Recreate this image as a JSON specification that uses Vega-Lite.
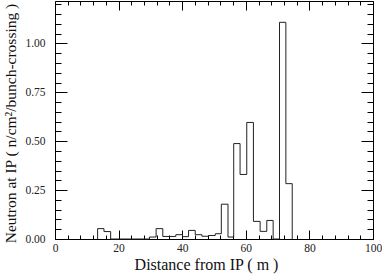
{
  "$schema": "https://vega.github.io/schema/vega-lite/v6.json",
  "width": 318,
  "height": 238,
  "autosize": {"type": "none"},
  "padding": {"left": 55, "top": 1, "right": 9, "bottom": 35},
  "background": "white",
  "config": {
    "view": {"stroke": "black", "strokeWidth": 1},
    "font": "Liberation Serif",
    "axis": {
      "grid": false,
      "domain": false,
      "tickColor": "black",
      "labelColor": "#222",
      "labelFont": "Liberation Serif",
      "labelFontSize": 11.5,
      "titleFont": "Liberation Serif",
      "titleFontWeight": "normal",
      "titleColor": "#111",
      "labelOverlap": false,
      "labelFlush": false
    }
  },
  "data": {
    "values": [
      {"i": 0, "x": 13.4, "y": 0},
      {"i": 1, "x": 13.4, "y": 0.053},
      {"i": 2, "x": 15.4, "y": 0.038},
      {"i": 3, "x": 17.5, "y": 0},
      {"i": 4, "x": 29.7, "y": 0.01},
      {"i": 5, "x": 31.8, "y": 0.053},
      {"i": 6, "x": 33.9, "y": 0.013},
      {"i": 7, "x": 36.0, "y": 0.013},
      {"i": 8, "x": 38.0, "y": 0.022},
      {"i": 9, "x": 40.1, "y": 0.012},
      {"i": 10, "x": 42.0, "y": 0.044},
      {"i": 11, "x": 44.1, "y": 0.022},
      {"i": 12, "x": 46.2, "y": 0.014},
      {"i": 13, "x": 48.3, "y": 0.018},
      {"i": 14, "x": 50.4, "y": 0.027},
      {"i": 15, "x": 52.3, "y": 0.178},
      {"i": 16, "x": 54.4, "y": 0.01},
      {"i": 17, "x": 56.2, "y": 0.488},
      {"i": 18, "x": 58.2, "y": 0.33},
      {"i": 19, "x": 60.3, "y": 0.596},
      {"i": 20, "x": 62.4, "y": 0.09},
      {"i": 21, "x": 64.5, "y": 0.039},
      {"i": 22, "x": 66.6, "y": 0.095},
      {"i": 23, "x": 68.6, "y": 0},
      {"i": 24, "x": 70.6, "y": 1.108},
      {"i": 25, "x": 72.6, "y": 0.283},
      {"i": 26, "x": 74.6, "y": 0}
    ]
  },
  "layer": [
    {
      "mark": {"type": "line", "interpolate": "step-after", "color": "#222", "strokeWidth": 1},
      "encoding": {
        "x": {
          "field": "x", "type": "quantitative",
          "scale": {"domain": [0, 100], "nice": false, "zero": false},
          "axis": {
            "orient": "bottom",
            "values": [0,4,8,12,16,20,24,28,32,36,40,44,48,52,56,60,64,68,72,76,80,84,88,92,96,100],
            "tickSize": {"condition": {"test": "datum.value % 20 === 0", "value": -9}, "value": -4},
            "labelExpr": "datum.value % 20 === 0 ? datum.label : ''",
            "labelPadding": 12,
            "title": "Distance from IP  ( m )",
            "titleFontSize": 16,
            "titlePadding": -2,
            "titleX": 151
          }
        },
        "y": {
          "field": "y", "type": "quantitative",
          "scale": {"domain": [0, 1.217], "nice": false, "zero": false},
          "axis": {
            "orient": "left",
            "values": [0,0.05,0.1,0.15,0.2,0.25,0.3,0.35,0.4,0.45,0.5,0.55,0.6,0.65,0.7,0.75,0.8,0.85,0.9,0.95,1.0,1.05,1.1,1.15,1.2],
            "format": ".2f",
            "tickSize": {"condition": {"test": "abs(datum.value*4 - round(datum.value*4)) < 0.001", "value": -12}, "value": -6},
            "labelExpr": "abs(datum.value*4 - round(datum.value*4)) < 0.001 && datum.value < 1.1 ? datum.label : ''",
            "labelPadding": 22,
            "title": "Neutron at IP  ( n/cm²/bunch-crossing )",
            "titleFontSize": 15.5,
            "titlePadding": 6,
            "titleY": 122
          }
        },
        "order": {"field": "i", "type": "quantitative"}
      }
    },
    {
      "mark": {"type": "line", "opacity": 0},
      "encoding": {
        "x": {
          "field": "x", "type": "quantitative",
          "axis": {
            "orient": "top",
            "values": [0,4,8,12,16,20,24,28,32,36,40,44,48,52,56,60,64,68,72,76,80,84,88,92,96,100],
            "tickSize": {"condition": {"test": "datum.value % 20 === 0", "value": -9}, "value": -4},
            "labels": false,
            "title": null
          }
        },
        "y": {
          "field": "y", "type": "quantitative",
          "axis": {
            "orient": "right",
            "values": [0,0.05,0.1,0.15,0.2,0.25,0.3,0.35,0.4,0.45,0.5,0.55,0.6,0.65,0.7,0.75,0.8,0.85,0.9,0.95,1.0,1.05,1.1,1.15,1.2],
            "tickSize": {"condition": {"test": "abs(datum.value*4 - round(datum.value*4)) < 0.001", "value": -12}, "value": -6},
            "labels": false,
            "title": null
          }
        },
        "order": {"field": "i", "type": "quantitative"}
      }
    }
  ],
  "resolve": {"axis": {"x": "independent", "y": "independent"}}
}
